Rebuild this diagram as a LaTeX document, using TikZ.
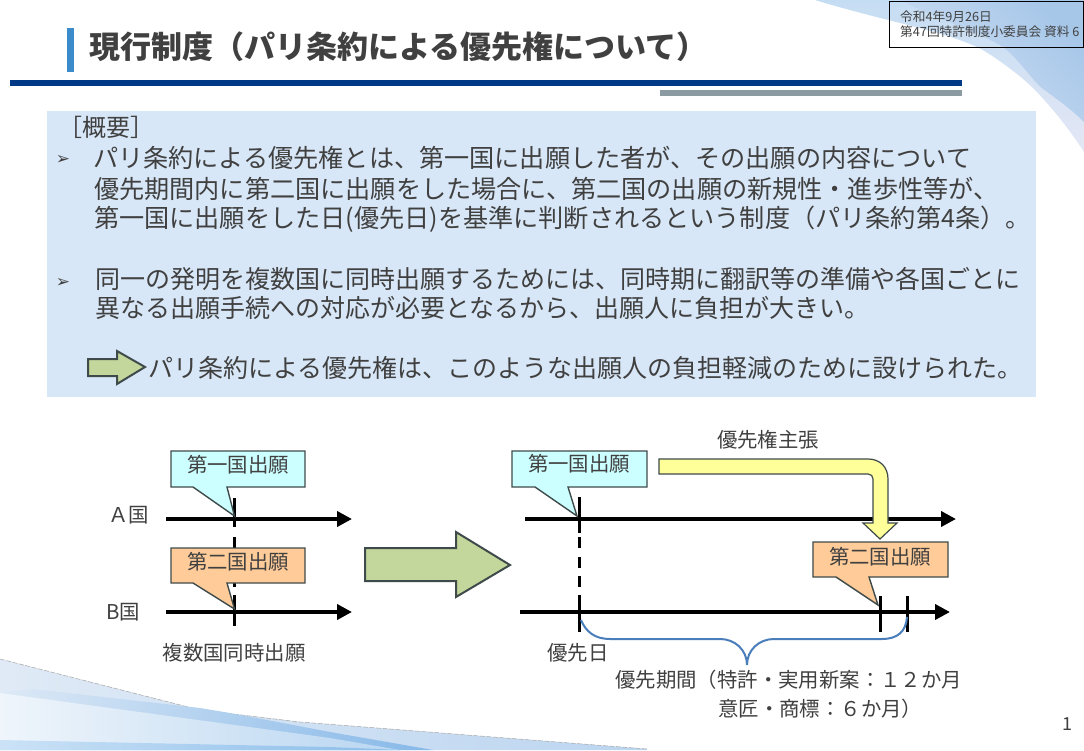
\documentclass[tikz,border=0pt]{standalone}
\usepackage{fontspec}
\setmainfont{Noto Sans CJK JP}
\newfontfamily\symfont{DejaVu Sans}
\usetikzlibrary{arrows.meta}
\definecolor{txt}{HTML}{404040}
\definecolor{panel}{HTML}{D8E7F7}
\definecolor{navy}{HTML}{003A86}
\definecolor{barblue}{HTML}{3C8BCB}
\definecolor{bargray}{HTML}{8C9BA2}
\definecolor{edgec}{HTML}{3F4A4A}
\definecolor{cyanfill}{HTML}{CCFFFF}
\definecolor{orangefill}{HTML}{FFCC99}
\definecolor{greenfill}{HTML}{C3D69B}
\definecolor{yellowfill}{HTML}{FFFF99}
\definecolor{bracec}{HTML}{4A7EBB}
\definecolor{swa}{HTML}{C5DDF3}
\definecolor{swb}{HTML}{DCE9F6}
\definecolor{swc}{HTML}{E4E7F5}
\definecolor{swd}{HTML}{D0E0F3}
\definecolor{swe}{HTML}{A7C7E9}
\definecolor{swf}{HTML}{E0EAF6}
\definecolor{swg}{HTML}{BBD5F0}
\definecolor{swh}{HTML}{DDE9F6}
\definecolor{swi}{HTML}{86B8E8}
\definecolor{swj}{HTML}{EFF5FB}
\definecolor{swk}{HTML}{B9D6F1}
\definecolor{swl}{HTML}{CBE2F6}
\definecolor{swm}{HTML}{8ABCE9}
\newcommand{\fs}[1]{\fontsize{#1}{#1}\selectfont}
\tikzset{
  body/.style={anchor=west,inner sep=0pt,text=txt,font=\fs{25.15}},
  bodyb/.style={anchor=west,inner sep=0pt,text=txt,font=\fs{25}},
  label/.style={anchor=center,inner sep=0pt,text=txt,font=\fs{20.4}},
  small/.style={anchor=west,inner sep=0pt,text=txt,font=\fs{12.7}},
  bullet/.style={anchor=center,inner sep=0pt,text=txt,font=\symfont\fs{17}},
  axis/.style={draw=black,line width=4pt,-{Triangle[length=15pt,width=15pt]}},
  dashv/.style={draw=black,line width=3pt,dash pattern=on 11pt off 8.5pt},
  tick/.style={draw=black,line width=3pt},
  calloutc/.style={draw=edgec,line width=1.4pt,fill=cyanfill,line join=miter},
  callouto/.style={draw=edgec,line width=1.4pt,fill=orangefill,line join=miter},
  bigarrow/.style={draw=edgec,line width=2pt,fill=greenfill,line join=miter},
}
\begin{document}
\begin{tikzpicture}[x=1pt,y=-1pt]
\useasboundingbox (0,0) rectangle (1084,750);
\fill[white] (0,0) rectangle (1084,750);
% top right swoop
\path[top color=swa,middle color=swb,bottom color=swc] (815,0) .. controls (880,20) and (940,30) .. (977,47) .. controls (990,53) and (1020,75) .. (1033,88) .. controls (1050,105) and (1070,130) .. (1084,152) -- (1084,0) -- cycle;
\path[left color=swd,right color=swe,shading angle=135] (900,0) .. controls (940,20) and (985,35) .. (1003,47) .. controls (1020,60) and (1030,78) .. (1042,88) .. controls (1055,98) and (1070,108) .. (1084,122) -- (1084,0) -- cycle;
% bottom left swoop
\path[left color=swf,right color=swg] (0,659) -- (200,710) -- (300,722) -- (647,749) -- (647,750) -- (0,750) -- cycle;
\draw[gray!70,line width=.5pt,dash pattern=on 5pt off 1.5pt] (0,659) -- (200,710) -- (300,722) -- (647,749);
\path[left color=swh,right color=swi] (33,689) -- (200,708) -- (230,713) -- (330,732) -- (433,750) -- (0,750) -- (0,693) -- cycle;
\path[left color=swj,right color=swk] (0,693) -- (330,738) -- (400,750) -- (0,750) -- cycle;
\path[left color=swl,right color=swm] (0,740) -- (330,747) -- (400,750) -- (0,750) -- cycle;
% stamp
\draw[black,line width=1pt] (889,1) rectangle (1083,47);
\node[small] (stampa) at (900,17) {令和4年9月26日};
\node[small] (stampb) at (900,32) {第47回特許制度小委員会 資料 6};
% title
\fill[barblue] (67,28) rectangle (74,72);
\node[anchor=west,inner sep=0pt,text=txt,font=\fs{31}\bfseries] (title) at (89,47) {現行制度（パリ条約による優先権について）};
\fill[navy] (10,80) rectangle (962,86);
\fill[bargray] (660,90) rectangle (962,96);
% panel
\fill[panel] (47,111) rectangle (1036,397);
\node[body,font=\fs{24}] (gaiyo) at (58,127) {［概要］};
\node[bullet] (b1) at (63,160) {➢};
\node[body] (l1) at (93,158) {パリ条約による優先権とは、第一国に出願した者が、その出願の内容について};
\node[body] (l2) at (94,189) {優先期間内に第二国に出願をした場合に、第二国の出願の新規性・進歩性等が、};
\node[body] (l3) at (94,219) {第一国に出願をした日(優先日)を基準に判断されるという制度（パリ条約第4条）。};
\node[bullet] (b2) at (63,283) {➢};
\node[bodyb] (l4) at (95,279) {同一の発明を複数国に同時出願するためには、同時期に翻訳等の準備や各国ごとに};
\node[bodyb] (l5) at (95,308) {異なる出願手続への対応が必要となるから、出願人に負担が大きい。};
\draw[bigarrow] (88,359) -- (117,359) -- (117,351) -- (145,367) -- (117,384) -- (117,376) -- (88,376) -- cycle;
\node[bodyb] (l6) at (148,368) {パリ条約による優先権は、このような出願人の負担軽減のために設けられた。};
% left timeline
\coordinate (dl1) at (234.5,498); \coordinate (dl2) at (234.5,527);
\coordinate (dl3) at (234.5,537); \coordinate (dl4) at (234.5,587);
\coordinate (dl5) at (234.5,595); \coordinate (dl6) at (234.5,626);
\path[tick] (dl1) -- (dl2);
\path[tick] (dl3) -- (dl4);
\path[tick] (dl5) -- (dl6);
\coordinate (al) at (166,519); \coordinate (ar) at (352,519);
\coordinate (bl) at (166,612); \coordinate (br) at (352,612);
\path[axis] (al) -- (ar);
\path[axis] (bl) -- (br);
\draw[calloutc] (171,451) -- (305,451) -- (305,487) -- (227,487) -- (234.5,516) -- (193,487) -- (171,487) -- cycle;
\draw[callouto] (171,548) -- (305,548) -- (305,583) -- (227,583) -- (234.5,609) -- (193,583) -- (171,583) -- cycle;
\node[label] (c1) at (238,465) {第一国出願};
\node[label] (c2) at (238,562) {第二国出願};
\node[label,anchor=west] (ka) at (108,515) {Ａ国};
\node[label,anchor=west] (kb) at (106,612) {B国};
\node[label] (fuku) at (234,653) {複数国同時出願};
% big arrow
\draw[bigarrow] (365,548) -- (456,548) -- (456,532) -- (510,565) -- (456,597) -- (456,581) -- (365,581) -- cycle;
% right timeline
\coordinate (ra1) at (525,519); \coordinate (ra2) at (956,519);
\coordinate (rb1) at (520,612); \coordinate (rb2) at (950,612);
\coordinate (t0a) at (579.5,497); \coordinate (t0b) at (579.5,533);
\coordinate (t0c) at (579.5,537); \coordinate (t0d) at (579.5,587);
\coordinate (t0e) at (579.5,595); \coordinate (t0f) at (579.5,632);
\path[tick] (t0a) -- (t0b);
\path[dashv] (t0c) -- (t0d);
\path[tick] (t0e) -- (t0f);
\path[axis] (ra1) -- (ra2);
\path[axis] (rb1) -- (rb2);
\coordinate (t1a) at (880.5,596); \coordinate (t1b) at (880.5,632);
\coordinate (t2a) at (907.5,596); \coordinate (t2b) at (907.5,632);
\path[tick] (t1a) -- (t1b);
\path[tick] (t2a) -- (t2b);
\draw[bracec,line width=2pt] (581,620) .. controls (586,632) and (595,639) .. (610,639) -- (720,639) .. controls (735,639) and (747,650) .. (747,665) .. controls (747,650) and (759,639) .. (774,639) -- (882,639) .. controls (897,639) and (906,632) .. (907,617);
\draw[calloutc] (512,451) -- (647,451) -- (647,487) -- (568,487) -- (577,516) -- (535,487) -- (512,487) -- cycle;
\draw[callouto] (813,542) -- (948,542) -- (948,577) -- (869,577) -- (878,605) -- (836,577) -- (813,577) -- cycle;
\draw[draw=edgec,line width=1.2pt,fill=yellowfill,line join=miter] (659,459) -- (868,459) .. controls (880,459) and (888,467) .. (888,479) -- (888,523) -- (897,523) -- (880,539) -- (863,523) -- (873,523) -- (873,479) .. controls (873,476) and (871,474) .. (868,474) -- (659,474) -- cycle;
\node[label] (r1) at (579,464) {第一国出願};
\node[label] (r2) at (880,557) {第二国出願};
\node[label] (claim) at (768,440) {優先権主張};
\node[label] (pdate) at (578,653) {優先日};
\node[label,anchor=west] (per1) at (615,680) {優先期間（特許・実用新案：１２か月};
\node[label,anchor=west] (per2) at (718,709) {意匠・商標：６か月）};
\node[anchor=center,inner sep=0pt,text=txt,font=\fs{18}] (pg) at (1067,724) {1};
\end{tikzpicture}
\end{document}
